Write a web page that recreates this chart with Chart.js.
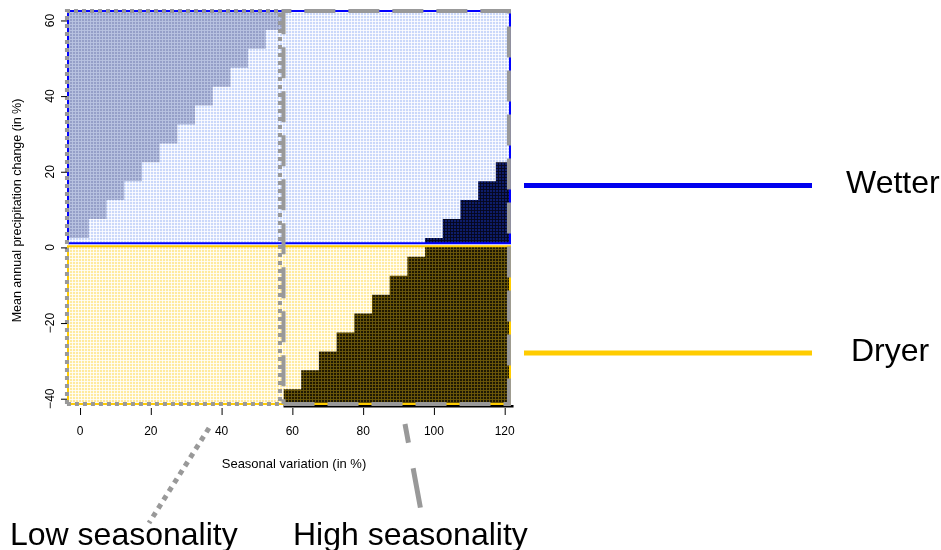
<!DOCTYPE html>
<html lang="en">
<head>
    <meta charset="UTF-8">
    <title>Seasonality and precipitation change</title>
    <script src="https://cdn.jsdelivr.net/npm/chart.js@4.4.1/dist/chart.umd.min.js"></script>
    <style>
        body { margin: 0; background: #fff; }
        canvas { display: block; }
    </style>
</head>
<body>
    <canvas id="seasonChart" width="941" height="550"></canvas>

    <script>
        // axis ticks
        const xTicks = [0, 20, 40, 60, 80, 100, 120];
        const yTicks = [-40, -20, 0, 20, 40, 60];

        // plot extents (in %)
        const xMin = -3.4, xMax = 121.5;
        const yMin = -41.4, yMax = 62.5;
        const seasonSplit = 57.5;   // low / high seasonality boundary
        const wetBottom = 1.1, dryTop = 0.3;

        // low seasonality, wetter: lowest grey cell in each 5% column
        const lowCols  = [0, 5, 10, 15, 20, 25, 30, 35, 40, 45, 50, 55];
        const grayFrom = [5, 10, 15, 20, 25, 30, 35, 40, 45, 50, 55, 60];

        // high seasonality, wetter: highest dark cell per column
        const wetCols = [100, 105, 110, 115, 120];
        const navyTo  = [0, 5, 10, 15, 20];

        // high seasonality, dryer: highest dark cell per column
        const dryCols = [60, 65, 70, 75, 80, 85, 90, 95, 100, 105, 110, 115, 120];
        const darkTo  = [-40, -35, -30, -25, -20, -15, -10, -5, 0, 0, 0, 0, 0];

        const half = 2.5;
        const font = "'Liberation Sans', Arial, sans-serif";

        function makePattern(base, line, step) {
            const c = document.createElement('canvas');
            c.width = step * 2; c.height = step * 2;
            const g = c.getContext('2d');
            g.fillStyle = base;
            g.fillRect(0, 0, c.width, c.height);
            g.fillStyle = line;
            for (let i = 0; i < 2; i++) {
                g.fillRect(i * step, 0, 1, c.height);
                g.fillRect(0, i * step, c.width, 1);
            }
            return g.createPattern(c, 'repeat');
        }

        const bluePat   = makePattern('#cad8fa', 'rgba(255,255,255,0.8)', 3);
        const grayPat   = makePattern('#959fc8', 'rgba(185,195,225,0.9)', 3);
        const yellowPat = makePattern('#ffea9e', 'rgba(255,255,255,0.8)', 3);
        const navyPat   = makePattern('#0e1d6a', 'rgba(5,8,30,0.9)', 3);
        const darkPat   = makePattern('#1e1904', 'rgba(110,90,10,0.9)', 3);

        const grayPts = lowCols.map((c, i) => ({ x: i === 0 ? xMin : c - half, y: grayFrom[i] - half }));
        grayPts.push({ x: seasonSplit, y: grayFrom[grayFrom.length - 1] - half });

        const navyPts = wetCols.map((c, i) => ({ x: c - half, y: navyTo[i] + half }));
        navyPts.push({ x: xMax, y: navyTo[navyTo.length - 1] + half });

        const darkPts = dryCols.map((c, i) => ({ x: c - half, y: Math.min(darkTo[i] + half, dryTop) }));
        darkPts.push({ x: xMax, y: dryTop });

        function rect(x0, x1, y0, y1) {
            return [{x: x0, y: y0}, {x: x1, y: y0}, {x: x1, y: y1}, {x: x0, y: y1}, {x: x0, y: y0}];
        }

        const base = { showLine: true, pointRadius: 0, borderColor: 'transparent', clip: false };

        const datasets = [
            Object.assign({}, base, { data: [{x: xMin, y: wetBottom}, {x: xMax, y: wetBottom}], fill: 'end', backgroundColor: bluePat, order: 20 }),
            Object.assign({}, base, { data: [{x: xMin, y: dryTop}, {x: xMax, y: dryTop}], fill: 'start', backgroundColor: yellowPat, order: 20 }),
            Object.assign({}, base, { data: grayPts, stepped: 'before', fill: 'end', backgroundColor: grayPat, order: 15 }),
            Object.assign({}, base, { data: navyPts, stepped: 'before', fill: { value: wetBottom }, backgroundColor: navyPat, order: 15 }),
            Object.assign({}, base, { data: darkPts, stepped: 'before', fill: 'start', backgroundColor: darkPat, order: 15 }),
            Object.assign({}, base, { data: rect(xMin, xMax, wetBottom, yMax), borderColor: '#0000ff', borderWidth: 2, fill: false, order: 10 }),
            Object.assign({}, base, { data: rect(xMin, xMax, yMin, dryTop), borderColor: '#ffcc00', borderWidth: 2, fill: false, order: 10 }),
            Object.assign({}, base, { data: [{x: seasonSplit, y: yMin - 0.6}, {x: xMax + 1, y: yMin - 0.6}, {x: xMax + 1, y: navyTo[navyTo.length - 1] + half}], borderColor: '#000', borderWidth: 2.5, fill: false, order: 9 }),
            Object.assign({}, base, { data: rect(xMin - 0.3, seasonSplit - 1, yMin, yMax), borderColor: '#999999', borderWidth: 4, borderDash: [4, 4], fill: false, order: 5 }),
            Object.assign({}, base, { data: rect(seasonSplit, xMax - 0.3, yMin, yMax), borderColor: '#999999', borderWidth: 4, borderDash: [31, 13], fill: false, order: 4 })
        ];

        const annotate = {
            id: 'annotate',
            afterDraw(chart) {
                const ctx = chart.ctx;
                const xs = chart.scales.x, ys = chart.scales.y;
                const area = chart.chartArea;
                ctx.save();
                ctx.fillStyle = '#000';
                ctx.strokeStyle = '#000';
                ctx.lineWidth = 1;

                // y axis
                ctx.font = '12px ' + font;
                ctx.textAlign = 'center';
                ctx.textBaseline = 'middle';
                yTicks.forEach(v => {
                    const py = ys.getPixelForValue(v);
                    ctx.beginPath();
                    ctx.moveTo(area.left - 7, py + 0.5);
                    ctx.lineTo(area.left - 1, py + 0.5);
                    ctx.stroke();
                    ctx.save();
                    ctx.translate(area.left - 17, py);
                    ctx.rotate(-Math.PI / 2);
                    ctx.fillText(String(v).replace('-', '\u2212'), 0, 0);
                    ctx.restore();
                });
                ctx.save();
                ctx.font = '12.5px ' + font;
                ctx.translate(18, (area.top + area.bottom) / 2 + 3);
                ctx.rotate(-Math.PI / 2);
                ctx.fillText('Mean annual precipitation change (in %)', 0, 0);
                ctx.restore();

                // x axis
                ctx.font = '12px ' + font;
                xTicks.forEach(v => {
                    const px = xs.getPixelForValue(v);
                    ctx.beginPath();
                    ctx.moveTo(px + 0.5, area.bottom + 4);
                    ctx.lineTo(px + 0.5, area.bottom + 11);
                    ctx.stroke();
                    ctx.fillText(String(v), px, area.bottom + 28);
                });
                ctx.font = '13px ' + font;
                ctx.fillText('Seasonal variation (in %)', (area.left + area.right) / 2 + 5, area.bottom + 60);

                // legend
                ctx.lineWidth = 5;
                ctx.strokeStyle = '#0000ee';
                ctx.beginPath(); ctx.moveTo(524, 185.5); ctx.lineTo(812, 185.5); ctx.stroke();
                ctx.strokeStyle = '#ffcc00';
                ctx.beginPath(); ctx.moveTo(524, 353); ctx.lineTo(812, 353); ctx.stroke();
                ctx.font = '32px ' + font;
                ctx.textAlign = 'left';
                ctx.textBaseline = 'alphabetic';
                ctx.fillText('Wetter', 846, 193);
                ctx.fillText('Dryer', 851, 361);

                // seasonality callouts
                ctx.strokeStyle = '#999999';
                ctx.lineWidth = 5;
                ctx.setLineDash([5, 5]);
                ctx.beginPath(); ctx.moveTo(209, 428); ctx.lineTo(149, 523); ctx.stroke();
                ctx.setLineDash([40, 26]);
                ctx.lineDashOffset = 21;
                ctx.beginPath(); ctx.moveTo(405, 424); ctx.lineTo(421, 511); ctx.stroke();
                ctx.setLineDash([]);
                ctx.fillText('Low seasonality', 10, 545);
                ctx.fillText('High seasonality', 293, 545);
                ctx.restore();
            }
        };

        new Chart(document.getElementById('seasonChart'), {
            type: 'scatter',
            data: { datasets: datasets },
            options: {
                responsive: false,
                animation: false,
                devicePixelRatio: 1,
                layout: { padding: { left: 68, top: 11, right: 431, bottom: 146 } },
                scales: {
                    x: { type: 'linear', min: xMin, max: xMax, display: false },
                    y: { type: 'linear', min: yMin, max: yMax, display: false }
                },
                plugins: {
                    legend: { display: false },
                    tooltip: { enabled: false }
                }
            },
            plugins: [annotate]
        });
    </script>
</body>
</html>
